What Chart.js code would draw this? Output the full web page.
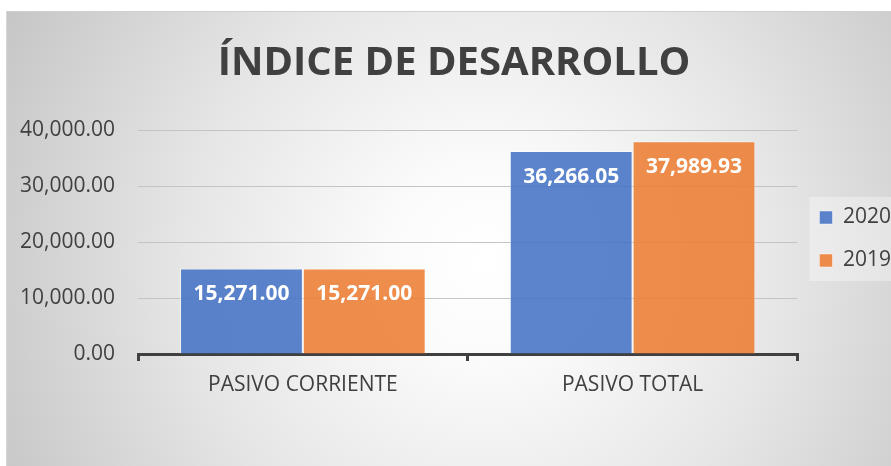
<!DOCTYPE html>
<html>
<head>
<meta charset="utf-8">
<script src="https://cdn.jsdelivr.net/npm/chart.js@4"></script>
<style>
  html, body { margin: 0; padding: 0; background: #ffffff; width: 891px; height: 466px; overflow: hidden; }
  #wrap {
    position: absolute; left: 6px; top: 11px; width: 885px; height: 455px;
    border-top: 1px solid #cfcfcf; border-left: 1px solid #d8d8d8;
    overflow: hidden;
    background: radial-gradient(circle at 54% 55%, #ffffff 0%, #fbfbfb 18%, #e6e6e6 55%, #c6c6c6 100%);
  }
  canvas { display: block; }
</style>
</head>
<body>
<div id="wrap"><canvas id="c" width="894" height="454"></canvas></div>
<script>
const titleText = "ÍNDICE DE DESARROLLO";
const categories = ["PASIVO CORRIENTE", "PASIVO TOTAL"];
const seriesNames = ["2020", "2019"];
const values2020 = [15271.00, 36266.05];
const values2019 = [15271.00, 37989.93];
const yTicks = [0, 10000, 20000, 30000, 40000];

const fmt = v => v.toLocaleString('en-US', { minimumFractionDigits: 2, maximumFractionDigits: 2 });

const dataLabels = {
  id: 'dataLabels',
  afterDatasetsDraw(chart) {
    const ctx = chart.ctx;
    ctx.save();
    ctx.font = 'bold 21px "Open Sans"';
    ctx.fillStyle = '#ffffff';
    ctx.textAlign = 'center';
    ctx.textBaseline = 'middle';
    chart.data.datasets.forEach((ds, i) => {
      chart.getDatasetMeta(i).data.forEach((bar, j) => {
        ctx.fillText(fmt(ds.data[j]), bar.x, bar.y + 26);
      });
    });
    ctx.restore();
  }
};

const legendBg = {
  id: 'legendBg',
  beforeDraw(chart) {
    const lg = chart.legend;
    if (!lg || !lg.legendHitBoxes || !lg.legendHitBoxes.length) return;
    const hb = lg.legendHitBoxes;
    const ctx = chart.ctx;
    ctx.save();
    ctx.fillStyle = 'rgba(255,255,255,0.35)';
    const top = hb[0].top - 10;
    const bottom = hb[hb.length - 1].top + hb[hb.length - 1].height + 10;
    ctx.fillRect(hb[0].left - 10, top, chart.width, bottom - top);
    ctx.restore();
  }
};

new Chart(document.getElementById('c'), {
  type: 'bar',
  data: {
    labels: categories,
    datasets: [
      { label: seriesNames[0], data: values2020, backgroundColor: 'rgba(68,114,196,0.87)', borderColor: 'rgba(255,255,255,0.45)', borderWidth: 1 },
      { label: seriesNames[1], data: values2019, backgroundColor: 'rgba(237,125,49,0.87)', borderColor: 'rgba(255,255,255,0.45)', borderWidth: 1 }
    ]
  },
  options: {
    responsive: false,
    devicePixelRatio: 1,
    animation: false,
    events: [],
    layout: { padding: { top: 0, right: 0, bottom: 0, left: 0 } },
    datasets: { bar: { categoryPercentage: 0.745, barPercentage: 1.0 } },
    plugins: {
      title: {
        display: true, text: titleText, color: '#404040',
        font: { family: '"Open Sans"', size: 40, weight: 'bold' },
        padding: { top: 28, bottom: 42 }
      },
      legend: {
        position: 'right', align: 'center',
        labels: {
          color: '#404040', boxWidth: 13, boxHeight: 13, padding: 22,
          font: { family: '"Open Sans"', size: 21 }
        }
      },
      tooltip: { enabled: false }
    },
    scales: {
      x: {
        grid: { display: true, drawOnChartArea: false, drawTicks: true, tickLength: 7, color: '#404040', lineWidth: 3, offset: true },
        border: { display: true, color: '#404040', width: 3 },
        ticks: { color: '#404040', font: { family: '"Open Sans"', size: 21 }, padding: 11, maxRotation: 0 },
        afterFit(scale) { scale.height = 112; }
      },
      y: {
        min: 0, max: 40000,
        afterBuildTicks(scale) { scale.ticks = yTicks.map(v => ({ value: v })); },
        grid: { color: '#c4c4c4', lineWidth: 1, drawTicks: false },
        border: { display: false },
        ticks: { color: '#404040', font: { family: '"Open Sans"', size: 21 }, padding: 23, callback: v => fmt(v) },
        afterFit(scale) { scale.width = 131; }
      }
    }
  },
  plugins: [legendBg, dataLabels]
});
</script>
</body>
</html>
